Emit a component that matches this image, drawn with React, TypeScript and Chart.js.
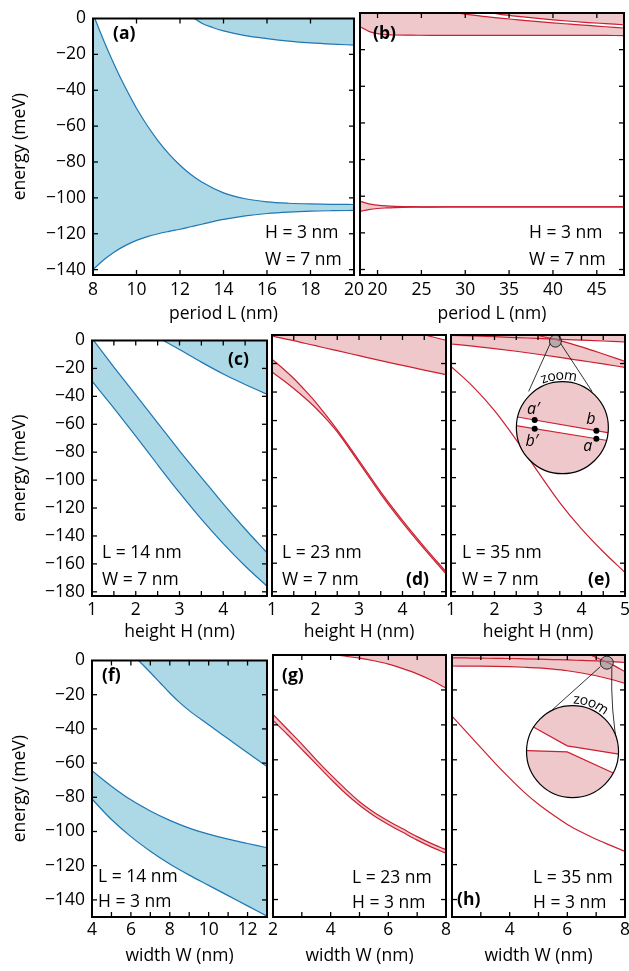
import React, { useEffect, useRef } from "react";
import { Chart, registerables } from "chart.js";
Chart.register(...registerables);

const FONT = '"Open Sans", "Noto Sans", "DejaVu Sans", sans-serif';
const FS = 17.5;
const BLUE_FILL = "#add8e6";
const BLUE_LINE = "#1f77b4";
const PINK_FILL = "#efc8cc";
const RED_LINE = "#cc1f30";

// ---------- tick arrays ----------
const yTicksRow1 = [0, -20, -40, -60, -80, -100, -120, -140];
const yTicksRow2 = [0, -20, -40, -60, -80, -100, -120, -140, -160, -180];
const yTicksRow3 = [0, -20, -40, -60, -80, -100, -120, -140];
const aXTicks = [8, 10, 12, 14, 16, 18, 20];
const bXTicks = [20, 25, 30, 35, 40, 45];
const hTicks = [1, 1.5, 2, 2.5, 3, 3.5, 4, 4.5, 5];
const hLabelsCD = [1, 2, 3, 4];
const hLabelsE = [1, 2, 3, 4, 5];
const fXTicks = [4, 5, 6, 7, 8, 9, 10, 11, 12, 13];
const fXLabels = [4, 6, 8, 10, 12];
const wTicks = [2, 3, 4, 5, 6, 7, 8];
const gXLabels = [2, 4, 6, 8];
const hXLabels = [4, 6, 8];

// ---------- panel (a): period L, H=3, W=7 ----------
const aX = [8, 8.5, 9, 9.5, 10, 10.5, 11, 11.5, 12, 12.5, 13, 14, 15, 16, 17, 18, 19, 20];
const aBand1Top = [2.5, -12.5, -26.3, -38.8, -50, -59.8, -68.3, -75.6, -81.8, -87, -91.2, -97.2, -100.5, -102.2, -103, -103.4, -103.6, -103.7];
const aBand1Bottom = [-140, -134.5, -130, -126.5, -123.7, -121.6, -120, -118.7, -117.5, -116.1, -114.7, -112, -110, -108.7, -107.9, -107.4, -107.15, -107];
const aX2 = [12.66, 13, 13.5, 14, 15, 16, 17, 18, 19, 20];
const aBand2Bottom = [0, -2.6, -5.0, -6.9, -9.5, -11.2, -12.6, -13.6, -14.3, -14.8];

// ---------- panel (b) ----------
const bX = [18, 19, 20, 21, 22, 24, 26, 28, 30, 32, 34, 36, 38, 40, 42, 44, 46, 48];
const bBand0Top = [-102.7, -104.2, -104.9, -105.3, -105.5, -105.7, -105.8, -105.8, -105.8, -105.8, -105.8, -105.8, -105.8, -105.8, -105.8, -105.8, -105.8, -105.8];
const bBand0Bottom = [-108.3, -107.3, -106.7, -106.4, -106.2, -106.0, -105.9, -105.85, -105.85, -105.85, -105.85, -105.85, -105.85, -105.85, -105.85, -105.85, -105.85, -105.85];
const bBand1Bottom = [-7.5, -10.0, -11.3, -11.8, -12.0, -12.1, -12.2, -12.2, -12.2, -12.2, -12.2, -12.2, -12.2, -12.2, -12.2, -12.2, -12.25, -12.3];
const bBand1Top = [9, 8, 7, 6.1, 5.2, 3.6, 2.1, 0.7, -0.6, -1.8, -2.8, -3.7, -4.6, -5.4, -6.1, -6.8, -7.5, -8.2];
const bBand2Bottom = [11, 10.2, 9.5, 8.7, 8, 6.5, 5, 3.5, 2.0, 0.6, -0.7, -1.8, -2.8, -3.7, -4.5, -5.2, -5.8, -6.4];

// ---------- panel (c): L=14 ----------
const cX = [1, 1.5, 2, 2.5, 3, 3.5, 4, 4.5, 5];
const cBand1Top = [1.5, -19, -39, -59, -79, -98, -117, -135, -152];
const cBand1Bottom = [-29, -48.5, -68.5, -89, -109, -128, -145.5, -161.5, -176];
const cX2 = [2.63, 3, 3.5, 4, 4.5, 5];
const cBand2Bottom = [0, -6.5, -15.5, -24, -31.5, -38.5];

// ---------- panel (d): L=23 ----------
const dX = [1, 1.25, 1.5, 1.75, 2, 2.25, 2.5, 3, 3.5, 4, 4.5, 5];
const dTopUpper = [20, 18.5, 17, 15.5, 14, 12.5, 11, 8, 5, 2.5, 0, -3.8];
const dTopLower = [-0.7, -2.4, -4.0, -5.8, -7.5, -9.3, -11, -14.5, -18, -21.3, -24.6, -27.8];
const dLowUpper = [-17, -23.5, -30.5, -38.5, -47, -56.5, -66.5, -88, -110, -130, -148.5, -166];
const dLowLower = [-26, -31.5, -37.5, -44, -51, -59, -68, -89.5, -111.5, -131.5, -150, -167.5];

// ---------- panel (e): L=35 ----------
const eX = [1, 1.5, 2, 2.5, 3, 3.5, 4, 4.5, 5];
const eLow = [-22, -36, -53, -73.5, -96, -117.5, -136, -152, -166.5];
const eP = [-0.2, -0.7, -1.2, -1.8, -2.4, -3.0, -3.6, -4.2, -4.9];
const eR = [17, 12.5, 8, 3.8, -0.3, -3.9, -8.3, -13.3, -18.5];
const eQ = [-6.3, -7.8, -9.5, -11.4, -13.5, -15.7, -18, -20.3, -22.7];

// ---------- panel (f): L=14, width ----------
const fX = [4, 5, 6, 7, 8, 9, 10, 11, 12, 13];
const fBand1Top = [-64.5, -73.5, -81.5, -88, -93.5, -98, -101.5, -104.5, -107, -109.5];
const fBand1Bottom = [-81, -93, -103, -111.5, -119, -125.5, -131.5, -137.5, -143.5, -149.5];
const fX2 = [6.4, 7, 7.5, 8, 8.5, 9, 10, 11, 12, 13];
const fBand2Bottom = [0, -7, -13, -19, -24.5, -29.3, -37.6, -45.8, -54, -62];

// ---------- panel (g): L=23, width ----------
const gX = [2, 2.5, 3, 3.5, 4, 4.5, 5, 5.5, 6, 6.5, 7, 7.5, 8];
const gLowUpper = [-34, -42.5, -51, -60, -68.5, -76.5, -84, -90, -95, -99.5, -104, -108, -111.5];
const gLowLower = [-37.5, -45.5, -54, -62.5, -71, -79, -86, -92, -97, -101.5, -106, -110, -113.5];
const gX2 = [4.2, 5, 5.5, 6, 6.5, 7, 7.5, 8];
const gTopBottom = [0, -1.8, -3.3, -5.2, -7.8, -10.8, -14.5, -19];

// ---------- panel (h): L=35, width ----------
const hX = [2, 2.5, 3, 3.5, 4, 4.5, 5, 5.5, 6, 6.5, 7, 7.5, 8];
const hLow = [-35, -44, -53, -62, -70.5, -78.5, -85.5, -91.5, -97, -101.5, -105.5, -109, -112.5];
const hP = [-1.6, -1.7, -1.8, -1.9, -2.0, -2.2, -2.4, -2.6, -2.8, -3.1, -3.4, -3.8, -4.3];
const hQ = [-6.3, -6.35, -6.4, -6.5, -6.7, -7.0, -7.4, -8.1, -9.0, -10.3, -11.9, -13.9, -16.3];
const hR = [30, 27, 24, 21, 18, 15, 12, 9, 5.8, 2.2, -1.4, -5.1, -9.5];

// ---------- helpers ----------
const ds = (xs: number[], ys: number[], color: string, fill: any = false, bg?: string) => ({
  data: xs.map((x, i) => ({ x, y: ys[i] })),
  borderColor: color,
  borderWidth: 1.2,
  pointRadius: 0,
  pointHoverRadius: 0,
  fill,
  backgroundColor: bg ?? "rgba(0,0,0,0)",
  cubicInterpolationMode: "monotone",
});

const fmt = (v: number) => (v < 0 ? "\u2212" + Math.abs(v) : String(v));

type Txt = { t: string; x: number; y: number; bold?: boolean };
type Inset = {
  small: [number, number];
  big: [number, number];
  r: number;
  sr: number;
  upper: [number, number][];
  lower: [number, number][];
  conn: { from: [number, number]; to: [number, number]; ctrl?: [number, number] }[];
  zoomAngle: number;
  dots?: [number, number][];
  labels?: { t: string; x: number; y: number }[];
};
type PanelCfg = {
  id: string;
  rect: [number, number, number, number];
  ml: number;
  xMin: number;
  xMax: number;
  xTicks: number[];
  xLabels: number[];
  xTitle: string;
  xTickPad: number;
  xTitlePad: number;
  yMin: number;
  yTicks: number[];
  yLabels: boolean;
  datasets: any[];
  texts: Txt[];
  inset?: Inset;
};

const MT = 12;
const MR = 12;
const MB = 50;

const PANELS: PanelCfg[] = [
  {
    id: "a", rect: [93, 13, 357, 275], ml: 93,
    xMin: 8, xMax: 20, xTicks: aXTicks, xLabels: aXTicks, xTitle: "period L (nm)", xTickPad: 5, xTitlePad: 0,
    yMin: -143, yTicks: yTicksRow1, yLabels: true,
    datasets: [
      ds(aX, aBand1Top, BLUE_LINE, 1, BLUE_FILL),
      ds(aX, aBand1Bottom, BLUE_LINE),
      ds(aX2, aBand2Bottom, BLUE_LINE, "end", BLUE_FILL),
    ],
    texts: [
      { t: "(a)", x: 113, y: 34, bold: true },
      { t: "H = 3 nm", x: 265, y: 233 },
      { t: "W = 7 nm", x: 265, y: 260 },
    ],
  },
  {
    id: "b", rect: [360, 13, 624, 275], ml: 8,
    xMin: 18, xMax: 48.1, xTicks: bXTicks, xLabels: bXTicks, xTitle: "period L (nm)", xTickPad: 5, xTitlePad: 0,
    yMin: -143, yTicks: yTicksRow1, yLabels: false,
    datasets: [
      ds(bX, bBand0Top, RED_LINE, 1, PINK_FILL),
      ds(bX, bBand0Bottom, RED_LINE),
      ds(bX, bBand1Top, RED_LINE, 3, PINK_FILL),
      ds(bX, bBand1Bottom, RED_LINE),
      ds(bX, bBand2Bottom, RED_LINE, "end", PINK_FILL),
    ],
    texts: [
      { t: "(b)", x: 373, y: 34, bold: true },
      { t: "H = 3 nm", x: 529, y: 233 },
      { t: "W = 7 nm", x: 529, y: 260 },
    ],
  },
  {
    id: "c", rect: [92, 335, 267, 596], ml: 92,
    xMin: 1, xMax: 5, xTicks: hTicks, xLabels: hLabelsCD, xTitle: "height H (nm)", xTickPad: 4, xTitlePad: 3.5,
    yMin: -183, yTicks: yTicksRow2, yLabels: true,
    datasets: [
      ds(cX, cBand1Top, BLUE_LINE, 1, BLUE_FILL),
      ds(cX, cBand1Bottom, BLUE_LINE),
      ds(cX2, cBand2Bottom, BLUE_LINE, "end", BLUE_FILL),
    ],
    texts: [
      { t: "(c)", x: 228, y: 360, bold: true },
      { t: "L = 14 nm", x: 102, y: 553 },
      { t: "W = 7 nm", x: 102, y: 580 },
    ],
  },
  {
    id: "d", rect: [271, 335, 446, 596], ml: 8,
    xMin: 1, xMax: 5, xTicks: hTicks, xLabels: hLabelsCD, xTitle: "height H (nm)", xTickPad: 4, xTitlePad: 3.5,
    yMin: -183, yTicks: yTicksRow2, yLabels: false,
    datasets: [
      ds(dX, dTopUpper, RED_LINE, 1, PINK_FILL),
      ds(dX, dTopLower, RED_LINE),
      ds(dX, dLowUpper, RED_LINE, 3, PINK_FILL),
      ds(dX, dLowLower, RED_LINE),
    ],
    texts: [
      { t: "(d)", x: 406, y: 580, bold: true },
      { t: "L = 23 nm", x: 282, y: 553 },
      { t: "W = 7 nm", x: 282, y: 580 },
    ],
  },
  {
    id: "e", rect: [450, 335, 625, 596], ml: 8,
    xMin: 1, xMax: 5, xTicks: hTicks, xLabels: hLabelsE, xTitle: "height H (nm)", xTickPad: 4, xTitlePad: 3.5,
    yMin: -183, yTicks: yTicksRow2, yLabels: false,
    datasets: [
      ds(eX, eR, RED_LINE, 1, PINK_FILL),
      ds(eX, eQ, RED_LINE),
      ds(eX, eP, RED_LINE, "end", PINK_FILL),
      ds(eX, eLow, RED_LINE),
    ],
    texts: [
      { t: "(e)", x: 588, y: 580, bold: true },
      { t: "L = 35 nm", x: 462, y: 553 },
      { t: "W = 7 nm", x: 462, y: 580 },
    ],
    inset: {
      small: [3.4, -4.3], big: [3.56, -65], r: 46, sr: 6,
      upper: [[-50, -11.6], [50, 5.8]],
      lower: [[-50, -2.6], [50, 13.6]],
      conn: [
        { from: [-5, 2], to: [-33.7, -36.3] },
        { from: [5, 2], to: [29.7, -36.3] },
      ],
      zoomAngle: -94,
      dots: [[-27.7, -7.7], [-27.7, 1], [34, 3], [34, 11]],
      labels: [
        { t: "a\u2032", x: -29, y: -18 },
        { t: "b\u2032", x: -30.5, y: 13.5 },
        { t: "b", x: 28.5, y: -8 },
        { t: "a", x: 25.5, y: 18.5 },
      ],
    },
  },
  {
    id: "f", rect: [92, 655, 267, 917], ml: 92,
    xMin: 4, xMax: 13, xTicks: fXTicks, xLabels: fXLabels, xTitle: "width W (nm)", xTickPad: 3, xTitlePad: 0,
    yMin: -150, yTicks: yTicksRow3, yLabels: true,
    datasets: [
      ds(fX, fBand1Top, BLUE_LINE, 1, BLUE_FILL),
      ds(fX, fBand1Bottom, BLUE_LINE),
      ds(fX2, fBand2Bottom, BLUE_LINE, "end", BLUE_FILL),
    ],
    texts: [
      { t: "(f)", x: 102, y: 676, bold: true },
      { t: "L = 14 nm", x: 98, y: 877 },
      { t: "H = 3 nm", x: 98, y: 902 },
    ],
  },
  {
    id: "g", rect: [273, 655, 446, 917], ml: 8,
    xMin: 2, xMax: 8, xTicks: wTicks, xLabels: gXLabels, xTitle: "width W (nm)", xTickPad: 3, xTitlePad: 0,
    yMin: -150, yTicks: yTicksRow3, yLabels: false,
    datasets: [
      ds(gX2, gTopBottom, RED_LINE, "end", PINK_FILL),
      ds(gX, gLowUpper, RED_LINE, 2, PINK_FILL),
      ds(gX, gLowLower, RED_LINE),
    ],
    texts: [
      { t: "(g)", x: 282, y: 676, bold: true },
      { t: "L = 23 nm", x: 352, y: 878 },
      { t: "H = 3 nm", x: 352, y: 903 },
    ],
  },
  {
    id: "h", rect: [452, 655, 625, 917], ml: 8,
    xMin: 2, xMax: 8, xTicks: wTicks, xLabels: hXLabels, xTitle: "width W (nm)", xTickPad: 3, xTitlePad: 0,
    yMin: -150, yTicks: yTicksRow3, yLabels: false,
    datasets: [
      ds(hX, hR, RED_LINE, 1, PINK_FILL),
      ds(hX, hQ, RED_LINE),
      ds(hX, hP, RED_LINE, "end", PINK_FILL),
      ds(hX, hLow, RED_LINE),
    ],
    texts: [
      { t: "(h)", x: 457, y: 900, bold: true },
      { t: "L = 35 nm", x: 533, y: 878 },
      { t: "H = 3 nm", x: 533, y: 903 },
    ],
    inset: {
      small: [7.37, -4.4], big: [6.18, -55.3], r: 46, sr: 6.5,
      upper: [[-50, -30.7], [-38.7, -24.4], [-5.3, -5.7], [44.7, 2.3], [50, 3.1]],
      lower: [[-50, -1.15], [-45.3, -1], [-5.3, 0.3], [41.3, 21.6], [50, 25.6]],
      conn: [
        { from: [-6.5, 4], to: [-20.3, -41.7] },
        { from: [5, 4.5], to: [45.5, -2], ctrl: [38, -40] },
      ],
      zoomAngle: -69,
    },
  },
];

function arcText(ctx: CanvasRenderingContext2D, text: string, cx: number, cy: number, radius: number, centerDeg: number) {
  ctx.font = `14px ${FONT}`;
  const chars = [...text];
  const widths = chars.map((c) => ctx.measureText(c).width);
  const total = widths.reduce((a, b) => a + b, 0);
  const center = (centerDeg * Math.PI) / 180;
  let ang = center - total / 2 / radius;
  ctx.textAlign = "center";
  ctx.textBaseline = "middle";
  chars.forEach((c, i) => {
    const a = ang + widths[i] / 2 / radius;
    ctx.save();
    ctx.translate(cx + radius * Math.cos(a), cy + radius * Math.sin(a));
    ctx.rotate(a + Math.PI / 2);
    ctx.fillText(c, 0, 0);
    ctx.restore();
    ang += widths[i] / radius;
  });
}

function drawInset(ctx: CanvasRenderingContext2D, chart: any, ins: Inset) {
  const xs = chart.scales.x;
  const ys = chart.scales.y;
  const sx = xs.getPixelForValue(ins.small[0]);
  const sy = ys.getPixelForValue(ins.small[1]);
  const cx = xs.getPixelForValue(ins.big[0]);
  const cy = ys.getPixelForValue(ins.big[1]);
  const R = ins.r;
  ctx.save();
  ctx.strokeStyle = "#000";
  ctx.lineWidth = 0.8;
  for (const c of ins.conn) {
    ctx.beginPath();
    ctx.moveTo(sx + c.from[0], sy + c.from[1]);
    if (c.ctrl) ctx.quadraticCurveTo(cx + c.ctrl[0], cy + c.ctrl[1], cx + c.to[0], cy + c.to[1]);
    else ctx.lineTo(cx + c.to[0], cy + c.to[1]);
    ctx.stroke();
  }
  ctx.beginPath();
  ctx.arc(sx, sy, ins.sr, 0, Math.PI * 2);
  ctx.fillStyle = "rgba(140,140,140,0.55)";
  ctx.fill();
  ctx.lineWidth = 0.8;
  ctx.stroke();
  ctx.save();
  ctx.beginPath();
  ctx.arc(cx, cy, R, 0, Math.PI * 2);
  ctx.clip();
  ctx.fillStyle = PINK_FILL;
  ctx.fillRect(cx - R - 2, cy - R - 2, 2 * R + 4, 2 * R + 4);
  ctx.beginPath();
  ins.upper.forEach((p, i) => (i ? ctx.lineTo(cx + p[0], cy + p[1]) : ctx.moveTo(cx + p[0], cy + p[1])));
  [...ins.lower].reverse().forEach((p) => ctx.lineTo(cx + p[0], cy + p[1]));
  ctx.closePath();
  ctx.fillStyle = "#fff";
  ctx.fill();
  ctx.strokeStyle = RED_LINE;
  ctx.lineWidth = 1.2;
  for (const ln of [ins.upper, ins.lower]) {
    ctx.beginPath();
    ln.forEach((p, i) => (i ? ctx.lineTo(cx + p[0], cy + p[1]) : ctx.moveTo(cx + p[0], cy + p[1])));
    ctx.stroke();
  }
  ctx.restore();
  ctx.beginPath();
  ctx.arc(cx, cy, R, 0, Math.PI * 2);
  ctx.strokeStyle = "#000";
  ctx.lineWidth = 1.2;
  ctx.stroke();
  ctx.fillStyle = "#000";
  for (const d of ins.dots ?? []) {
    ctx.beginPath();
    ctx.arc(cx + d[0], cy + d[1], 3, 0, Math.PI * 2);
    ctx.fill();
  }
  ctx.font = `italic 16px ${FONT}`;
  ctx.textAlign = "center";
  ctx.textBaseline = "middle";
  for (const l of ins.labels ?? []) ctx.fillText(l.t, cx + l.x, cy + l.y);
  ctx.fillStyle = "#000";
  arcText(ctx, "zoom", cx, cy, R + 6, ins.zoomAngle);
  ctx.restore();
}

function Panel({ cfg }: { cfg: PanelCfg }) {
  const ref = useRef<HTMLCanvasElement>(null);
  const [l, t, r, b] = cfg.rect;
  const w = r - l + cfg.ml + MR;
  const h = b - t + MT + MB;
  const ox = l - cfg.ml;
  const oy = t - MT;

  useEffect(() => {
    const font = { family: FONT, size: FS };
    const deco = {
      id: "deco" + cfg.id,
      afterDraw(chart: any) {
        const ctx: CanvasRenderingContext2D = chart.ctx;
        const { left, right, top, bottom } = chart.chartArea;
        const xs = chart.scales.x;
        const ys = chart.scales.y;
        ctx.save();
        ctx.strokeStyle = "#000";
        ctx.lineWidth = 1.3;
        const TL = 5;
        const seg = (x1: number, y1: number, x2: number, y2: number) => {
          ctx.beginPath();
          ctx.moveTo(x1, y1);
          ctx.lineTo(x2, y2);
          ctx.stroke();
        };
        for (const v of cfg.xTicks) {
          const px = xs.getPixelForValue(v);
          if (px <= left + 1 || px >= right - 1) continue;
          seg(px, bottom, px, bottom - TL);
          seg(px, top, px, top + TL);
        }
        for (const v of cfg.yTicks) {
          const py = ys.getPixelForValue(v);
          if (py <= top + 1 || py >= bottom - 1) continue;
          seg(left, py, left + TL, py);
          seg(right, py, right - TL, py);
        }
        ctx.lineWidth = 2;
        ctx.strokeRect(left, top, right - left, bottom - top);
        ctx.fillStyle = "#000";
        ctx.textAlign = "left";
        ctx.textBaseline = "middle";
        for (const tx of cfg.texts) {
          ctx.font = `${tx.bold ? "bold " : ""}${FS}px ${FONT}`;
          ctx.fillText(tx.t, tx.x - ox, tx.y - oy);
        }
        ctx.restore();
        if (cfg.inset) drawInset(ctx, chart, cfg.inset);
      },
    };

    const chart = new Chart(ref.current as HTMLCanvasElement, {
      type: "line",
      data: { datasets: cfg.datasets },
      options: {
        animation: false,
        responsive: false,
        maintainAspectRatio: false,
        devicePixelRatio: 1,
        layout: { padding: { left: 0, top: MT, right: MR, bottom: 0 } },
        plugins: {
          legend: { display: false },
          tooltip: { enabled: false },
          filler: { drawTime: "beforeDatasetsDraw" },
        },
        scales: {
          x: {
            type: "linear",
            position: "bottom",
            min: cfg.xMin,
            max: cfg.xMax,
            afterBuildTicks: (s: any) => {
              s.ticks = cfg.xTicks.map((v) => ({ value: v }));
            },
            afterFit: (s: any) => {
              s.height = MB;
            },
            ticks: {
              autoSkip: false,
              maxRotation: 0,
              minRotation: 0,
              padding: cfg.xTickPad,
              font,
              color: "#000",
              callback: (v: any) => (cfg.xLabels.some((q) => Math.abs(q - v) < 1e-9) ? fmt(v) : ""),
            },
            grid: { display: false, drawTicks: false },
            border: { display: false },
            title: {
              display: true,
              text: cfg.xTitle,
              font,
              color: "#000",
              padding: { top: 0, bottom: cfg.xTitlePad },
            },
          },
          y: {
            type: "linear",
            position: "left",
            min: cfg.yMin,
            max: 0,
            afterBuildTicks: (s: any) => {
              s.ticks = cfg.yTicks.map((v) => ({ value: v }));
            },
            afterFit: (s: any) => {
              s.width = cfg.ml;
            },
            ticks: {
              display: cfg.yLabels,
              autoSkip: false,
              padding: 7,
              font,
              color: "#000",
              callback: (v: any) => fmt(v),
            },
            grid: { display: false, drawTicks: false },
            border: { display: false },
            title: {
              display: cfg.yLabels,
              text: "energy (meV)",
              font,
              color: "#000",
              padding: { top: 10, bottom: 0 },
            },
          },
        },
      } as any,
      plugins: [deco],
    });
    return () => chart.destroy();
  }, []);

  return (
    <canvas
      ref={ref}
      width={w}
      height={h}
      style={{ position: "absolute", left: ox, top: oy, width: w, height: h }}
    />
  );
}

export default function App() {
  return (
    <div
      style={{
        position: "absolute",
        left: 0,
        top: 0,
        width: 629,
        height: 971,
        overflow: "hidden",
        background: "#fff",
      }}
    >
      {PANELS.map((p) => (
        <Panel key={p.id} cfg={p} />
      ))}
    </div>
  );
}
